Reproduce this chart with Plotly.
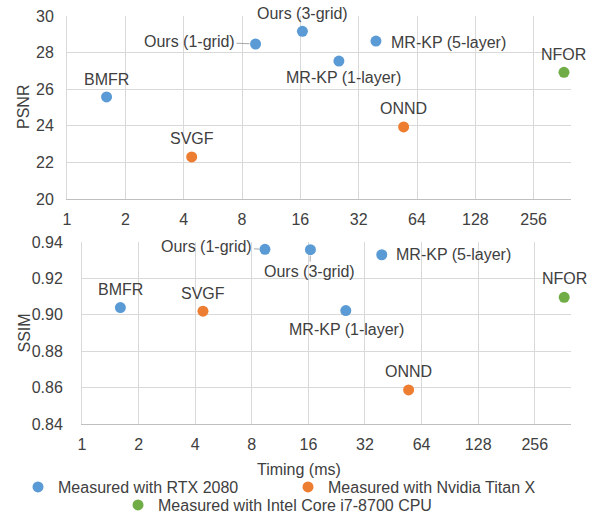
import math
import plotly.graph_objects as go

# ---------------- data ----------------
methods = ["BMFR", "SVGF", "Ours (1-grid)", "Ours (3-grid)",
           "MR-KP (1-layer)", "MR-KP (5-layer)", "ONND", "NFOR"]
timing_ms = [1.6, 4.4, 9.4, 16.4, 25.3, 39.3, 54.6, 367]
psnr = [25.58, 22.30, 28.47, 29.16, 27.54, 28.63, 23.94, 26.92]
ssim = [0.904, 0.902, 0.936, 0.9358, 0.9023, 0.933, 0.8587, 0.9096]
hardware = ["RTX 2080", "Nvidia Titan X", "RTX 2080", "RTX 2080",
            "RTX 2080", "RTX 2080", "Nvidia Titan X", "Intel Core i7-8700 CPU"]
hardware_groups = ["RTX 2080", "Nvidia Titan X", "Intel Core i7-8700 CPU"]
x_tick_vals = [1, 2, 4, 8, 16, 32, 64, 128, 256]
psnr_ticks = [20, 22, 24, 26, 28, 30]
ssim_ticks = [0.84, 0.86, 0.88, 0.90, 0.92, 0.94]

# ---------------- styles ----------------
FONT = "Liberation Sans, Arial, sans-serif"
FS = 16
TXT = "#404040"
GRID = "#d9d9d9"
colors = {"RTX 2080": "#5b9bd5", "Nvidia Titan X": "#ed7d31",
          "Intel Core i7-8700 CPU": "#70ad47"}
legend_of = {"RTX 2080": "legend", "Nvidia Titan X": "legend",
             "Intel Core i7-8700 CPU": "legend2"}
W, H = 598, 519


def px(xp):
    return xp / W


def py(yp):
    return 1 - yp / H


# label placement (pixel offsets from marker): (mode, dx, dy) ; dy positive = up
top_lab = {
    "BMFR": ("c", 0, 17), "SVGF": ("c", 0, 18.5),
    "Ours (1-grid)": ("arrow", -66, 2.7), "Ours (3-grid)": ("c", 0, 18.3),
    "MR-KP (1-layer)": ("c", 5, -16.7), "MR-KP (5-layer)": ("l", 13, -1),
    "ONND": ("c", 0, 18.4), "NFOR": ("c", 0, 18),
}
bot_lab = {
    "BMFR": ("c", 0, 17.7), "SVGF": ("c", 0, 17.3),
    "Ours (1-grid)": ("arrow", -58, 2.3), "Ours (3-grid)": ("arrow", -0.5, -22),
    "MR-KP (1-layer)": ("c", 0.7, -18.6), "MR-KP (5-layer)": ("l", 12, 0),
    "ONND": ("c", 0, 18.3), "NFOR": ("c", 0, 19),
}

fig = go.Figure()
for g in hardware_groups:
    idx = [i for i, h in enumerate(hardware) if h == g]
    fig.add_trace(go.Scatter(
        x=[timing_ms[i] for i in idx], y=[psnr[i] for i in idx],
        mode="markers", marker=dict(size=11, color=colors[g]),
        name="Measured with " + g, legend=legend_of[g],
        xaxis="x", yaxis="y", showlegend=True, cliponaxis=False))
    fig.add_trace(go.Scatter(
        x=[timing_ms[i] for i in idx], y=[ssim[i] for i in idx],
        mode="markers", marker=dict(size=11, color=colors[g]),
        name="Measured with " + g, legend=legend_of[g],
        xaxis="x2", yaxis="y2", showlegend=False, cliponaxis=False))

annos = []
for vals, labs, xr, yr in ((psnr, top_lab, "x", "y"), (ssim, bot_lab, "x2", "y2")):
    for m, t, v in zip(methods, timing_ms, vals):
        mode, dx, dy = labs[m]
        a = dict(x=math.log10(t), y=v, xref=xr, yref=yr, text=m,
                 font=dict(family=FONT, size=FS, color=TXT))
        if mode == "arrow":
            a.update(showarrow=True, arrowhead=0, arrowwidth=1,
                     arrowcolor="#a6a6a6", ax=dx, ay=-dy, standoff=6,
                     xanchor="center", yanchor="middle")
        else:
            a.update(showarrow=False, xshift=dx, yshift=dy, yanchor="middle",
                     xanchor="center" if mode == "c" else "left")
        annos.append(a)

title_font = dict(family=FONT, size=FS, color=TXT)
annos += [
    dict(x=px(23.5), y=py(107.5), xref="paper", yref="paper", text="PSNR",
         textangle=-90, showarrow=False, xanchor="center", yanchor="middle",
         font=title_font),
    dict(x=px(23.5), y=py(333), xref="paper", yref="paper", text="SSIM",
         textangle=-90, showarrow=False, xanchor="center", yanchor="middle",
         font=title_font),
    dict(x=px(299), y=py(469), xref="paper", yref="paper", text="Timing (ms)",
         showarrow=False, xanchor="center", yanchor="middle", font=title_font),
]

xmax = math.log10(2 ** 8.64)
xcommon = dict(type="log", range=[0, xmax], tickvals=x_tick_vals,
               ticktext=[str(v) for v in x_tick_vals], showgrid=True,
               gridcolor=GRID, gridwidth=1, showline=True, linecolor="#bfbfbf",
               linewidth=1, zeroline=False, ticks="", ticklabelstandoff=6,
               tickfont=dict(family=FONT, size=FS, color=TXT))
ycommon = dict(showgrid=True, gridcolor=GRID, gridwidth=1, showline=True,
               linecolor=GRID, linewidth=1, zeroline=False, ticks="",
               tickfont=dict(family=FONT, size=FS, color=TXT))

fig.update_layout(
    width=W, height=H, margin=dict(l=0, r=0, t=0, b=0, autoexpand=False),
    paper_bgcolor="white", plot_bgcolor="white",
    font=dict(family=FONT, size=FS, color=TXT),
    xaxis=dict(xcommon, domain=[px(67), px(571)], anchor="y"),
    yaxis=dict(ycommon, domain=[py(199), py(16)], anchor="x",
               range=[20, 30], tickvals=psnr_ticks, ticklabelstandoff=9),
    xaxis2=dict(xcommon, domain=[px(82), px(571)], anchor="y2"),
    yaxis2=dict(ycommon, domain=[py(424), py(242)], anchor="x2",
                range=[0.84, 0.94], tickvals=ssim_ticks, tickformat=".2f",
                ticklabelstandoff=15),
    legend=dict(orientation="h", x=px(18), y=py(487), xanchor="left",
                yanchor="middle", itemwidth=30, entrywidth=225,
                bgcolor="rgba(0,0,0,0)", font=dict(family=FONT, size=FS, color=TXT),
                tracegroupgap=0),
    legend2=dict(orientation="h", x=px(118), y=py(505), xanchor="left",
                 yanchor="middle", itemwidth=30, bgcolor="rgba(0,0,0,0)",
                 font=dict(family=FONT, size=FS, color=TXT)),
    annotations=annos,
    showlegend=True,
)

fig.write_html("out.html",
               config={"displayModeBar": False},
               post_script="document.body.style.margin='0px';"
                           "document.body.style.overflow='hidden';")
